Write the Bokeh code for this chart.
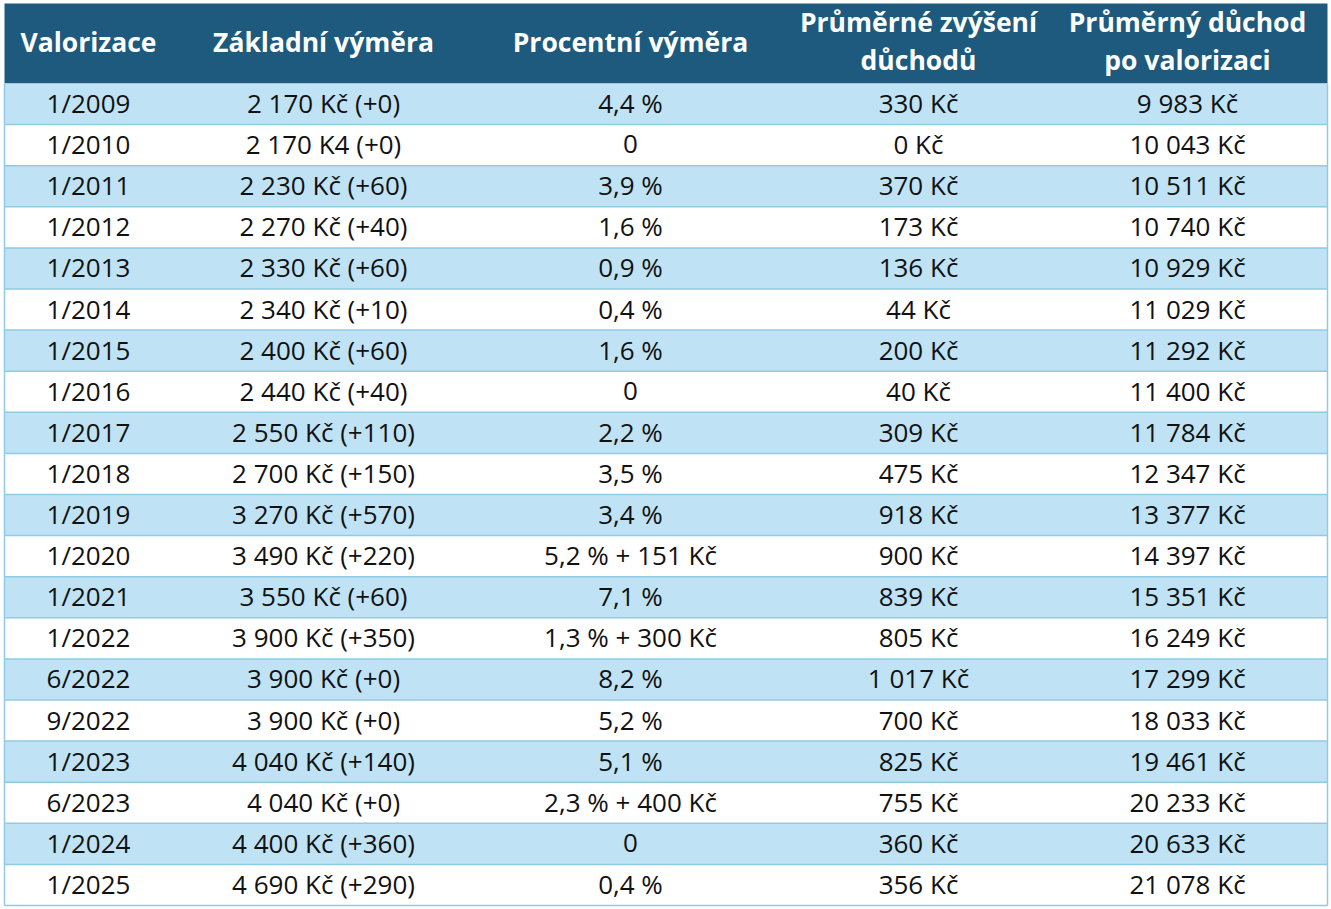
from bokeh.plotting import figure
from bokeh.models import Range1d, ColumnDataSource
from bokeh.core.properties import value
from bokeh.embed import file_html
from bokeh.resources import INLINE

# ---- data ----
headers = [["Valorizace"], ["Základní výměra"], ["Procentní výměra"],
           ["Průměrné zvýšení", "důchodů"], ["Průměrný důchod", "po valorizaci"]]
valorizace = ["1/2009", "1/2010", "1/2011", "1/2012", "1/2013", "1/2014", "1/2015",
              "1/2016", "1/2017", "1/2018", "1/2019", "1/2020", "1/2021", "1/2022",
              "6/2022", "9/2022", "1/2023", "6/2023", "1/2024", "1/2025"]
zakladni = ["2 170 Kč (+0)", "2 170 K4 (+0)", "2 230 Kč (+60)", "2 270 Kč (+40)",
            "2 330 Kč (+60)", "2 340 Kč (+10)", "2 400 Kč (+60)", "2 440 Kč (+40)",
            "2 550 Kč (+110)", "2 700 Kč (+150)", "3 270 Kč (+570)", "3 490 Kč (+220)",
            "3 550 Kč (+60)", "3 900 Kč (+350)", "3 900 Kč (+0)", "3 900 Kč (+0)",
            "4 040 Kč (+140)", "4 040 Kč (+0)", "4 400 Kč (+360)", "4 690 Kč (+290)"]
procentni = ["4,4 %", "0", "3,9 %", "1,6 %", "0,9 %", "0,4 %", "1,6 %", "0", "2,2 %",
             "3,5 %", "3,4 %", "5,2 % + 151 Kč", "7,1 %", "1,3 % + 300 Kč", "8,2 %",
             "5,2 %", "5,1 %", "2,3 % + 400 Kč", "0", "0,4 %"]
zvyseni = ["330 Kč", "0 Kč", "370 Kč", "173 Kč", "136 Kč", "44 Kč", "200 Kč", "40 Kč",
           "309 Kč", "475 Kč", "918 Kč", "900 Kč", "839 Kč", "805 Kč", "1 017 Kč",
           "700 Kč", "825 Kč", "755 Kč", "360 Kč", "356 Kč"]
duchod = ["9 983 Kč", "10 043 Kč", "10 511 Kč", "10 740 Kč", "10 929 Kč", "11 029 Kč",
          "11 292 Kč", "11 400 Kč", "11 784 Kč", "12 347 Kč", "13 377 Kč", "14 397 Kč",
          "15 351 Kč", "16 249 Kč", "17 299 Kč", "18 033 Kč", "19 461 Kč", "20 233 Kč",
          "20 633 Kč", "21 078 Kč"]
columns = [valorizace, zakladni, procentni, zvyseni, duchod]

# ---- layout ----
W, H = 1331, 909
col_centers = [88, 323, 630, 918, 1187]
left, right = 4, 1327
top, head_bottom, bottom = 3, 83, 905
n = len(valorizace)
row_h = (bottom - head_bottom) / n

HEADER = "#1d5a7e"
LIGHT = "#bfe3f4"
LINE = "#8fcbe4"
FONT = "Open Sans"

p = figure(width=W, height=H, output_backend="svg", toolbar_location=None,
           x_range=Range1d(0, W), y_range=Range1d(H, 0), min_border=0,
           background_fill_color="white", border_fill_color="white")
p.axis.visible = False
p.grid.visible = False
p.outline_line_color = None

# header band
p.quad(left=[left], right=[right], top=[top], bottom=[head_bottom],
       fill_color=HEADER, line_color=None)

# row bands
tops = [head_bottom + i * row_h for i in range(n)]
bots = [t + row_h for t in tops]
fills = [LIGHT if i % 2 == 0 else "white" for i in range(n)]
p.quad(left=[left] * n, right=[right] * n, top=tops, bottom=bots,
       fill_color=fills, line_color=None)

# horizontal lines
ys = [head_bottom + i * row_h for i in range(1, n)] + [bottom]
p.segment(x0=[left] * len(ys), x1=[right] * len(ys), y0=ys, y1=ys,
          line_color=LINE, line_width=1.5)
# outer side borders
p.segment(x0=[left, right], x1=[left, right], y0=[head_bottom] * 2, y1=[bottom] * 2,
          line_color=LINE, line_width=1.5)

# header text
hx, hy, ht = [], [], []
for c, lines in zip(col_centers, headers):
    if len(lines) == 1:
        hx.append(c); hy.append(41); ht.append(lines[0])
    else:
        hx += [c, c]; hy += [21, 59]; ht += lines
p.text(x=hx, y=hy, text=ht, text_align="center", text_baseline="middle",
       text_color="white", text_font=value(FONT), text_font_style="bold",
       text_font_size="26.5px")

# body text
bx, by, bt = [], [], []
for c, col in zip(col_centers, columns):
    for i, s in enumerate(col):
        bx.append(c); by.append(head_bottom + (i + 0.5) * row_h - 1); bt.append(s)
src = ColumnDataSource(dict(x=bx, y=by, t=bt))
p.text(x="x", y="y", text="t", source=src, text_align="center",
       text_baseline="middle", text_color="#111111", text_font=value(FONT),
       text_font_size="26px")

open("out.html", "w").write(file_html(p, INLINE))
